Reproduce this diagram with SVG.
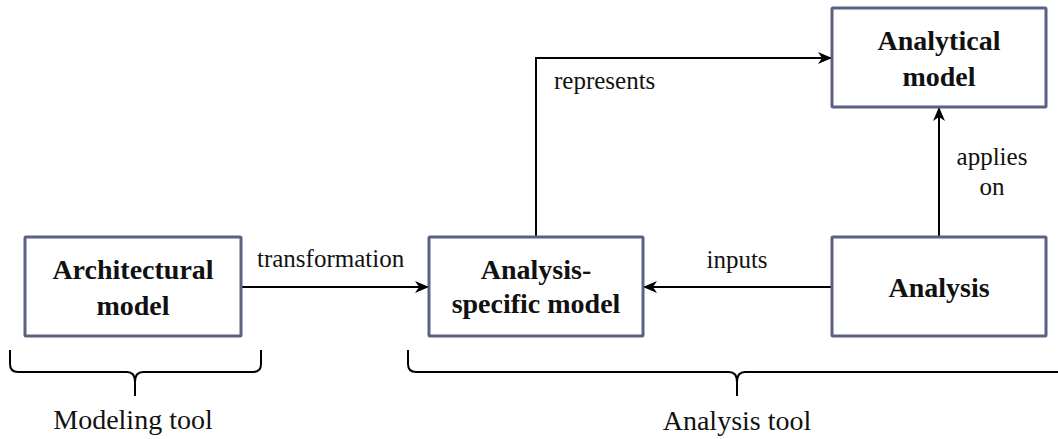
<svg xmlns="http://www.w3.org/2000/svg" width="1058" height="439" viewBox="0 0 1058 439">
<style>
.box{fill:#fff;stroke:#5a6183;stroke-width:3}
.nt{font-weight:bold;font-size:28px;fill:#111;text-anchor:middle}
.lb{font-size:25px;fill:#111}
.bt{font-size:28px;fill:#111;text-anchor:middle}
.ln{fill:none;stroke:#000;stroke-width:2}
.br{fill:none;stroke:#000;stroke-width:2}
</style>
<defs>
<marker id="ah" viewBox="0 0 14 12" refX="13" refY="6" markerWidth="14" markerHeight="12" markerUnits="userSpaceOnUse" orient="auto">
<path d="M0,0 L14,6 L0,12 L4,6 Z" fill="#000"/>
</marker>
</defs>
<rect width="1058" height="439" fill="#fff"/>
<g font-family="Liberation Serif, DejaVu Serif, serif">
<g id="connectors">
<path class="ln" d="M241,287 H428" marker-end="url(#ah)"/>
<path class="ln" d="M832,287 H644" marker-end="url(#ah)"/>
<path class="ln" d="M536,237 V58 H831" marker-end="url(#ah)"/>
<path class="ln" d="M939,237 V108" marker-end="url(#ah)"/>
<text class="lb" x="257" y="267">transformation</text>
<text class="lb" x="554" y="89">represents</text>
<text class="lb" x="737" y="268" text-anchor="middle">inputs</text>
<text class="lb" x="992" y="165" text-anchor="middle">applies</text>
<text class="lb" x="992" y="195" text-anchor="middle">on</text>
</g>
<g id="architectural-model">
<rect class="box" x="25" y="237" width="216" height="99" rx="1"/>
<text class="nt" x="133" y="279">Architectural</text>
<text class="nt" x="133" y="315">model</text>
</g>
<g id="analysis-specific-model">
<rect class="box" x="429" y="237" width="214" height="99" rx="1"/>
<text class="nt" x="536" y="279">Analysis-</text>
<text class="nt" x="536" y="313">specific model</text>
</g>
<g id="analysis">
<rect class="box" x="832" y="237" width="214" height="99" rx="1"/>
<text class="nt" x="939" y="297">Analysis</text>
</g>
<g id="analytical-model">
<rect class="box" x="832" y="8" width="214" height="99" rx="1"/>
<text class="nt" x="939" y="50">Analytical</text>
<text class="nt" x="939" y="86">model</text>
</g>
<g id="modeling-tool">
<path class="br" d="M10,350 V364 Q10,372 18,372 H127 Q135,372 135,382 V396 M135,382 Q135,372 143,372 H253 Q261,372 261,364 V350"/>
<text class="bt" x="133" y="429">Modeling tool</text>
</g>
<g id="analysis-tool">
<path class="br" d="M408,350 V364 Q408,372 416,372 H729 Q737,372 737,382 V396 M737,382 Q737,372 745,372 H1070"/>
<text class="bt" x="737" y="430">Analysis tool</text>
</g>
</g>
</svg>
